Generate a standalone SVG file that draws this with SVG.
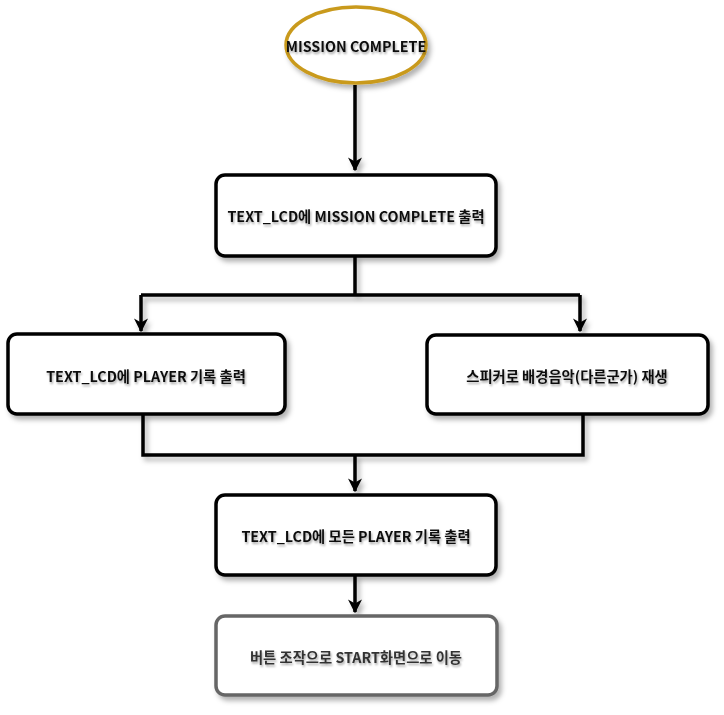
<svg xmlns="http://www.w3.org/2000/svg" width="724" height="715" viewBox="0 0 724 715">
<defs>
<filter id="sh" x="-10%" y="-10%" width="130%" height="140%">
<feDropShadow dx="3" dy="4" stdDeviation="2.5" flood-color="#000" flood-opacity="0.3"/>
</filter>
<filter id="esh" filterUnits="userSpaceOnUse" x="0" y="0" width="724" height="715">
<feDropShadow dx="3" dy="4" stdDeviation="2.5" flood-color="#000" flood-opacity="0.3"/>
</filter>
<filter id="tsh" x="-5%" y="-20%" width="110%" height="160%">
<feDropShadow dx="1" dy="2" stdDeviation="1.2" flood-color="#000" flood-opacity="0.35"/>
</filter>
<marker id="ah" viewBox="0 0 10 10" refX="9" refY="5" markerWidth="4" markerHeight="4" orient="auto">
<path d="M0,0 L10,5 L0,10 L3,5 Z" fill="#000"/>
</marker>
</defs>
<style>
.box{fill:#fff;stroke:#000;stroke-width:3.5;filter:url(#sh)}
.gray{stroke:#666}
.lbl{font-family:"Noto Sans CJK KR","Noto Sans",sans-serif;font-weight:bold;font-size:14.3px;fill:#111;text-anchor:middle;dominant-baseline:central;filter:url(#tsh)}
.glbl{fill:#333}
.edge{fill:none;stroke:#000;stroke-width:3.5;filter:url(#esh)}
</style>
<rect width="724" height="715" fill="#fff"/>
<g id="connectors">
<path class="edge" d="M355,85 L355,170" marker-end="url(#ah)"/>
<path class="edge" d="M355,256 L355,294"/>
<path class="edge" d="M141,295 L580,295"/>
<path class="edge" d="M141,295 L141,331" marker-end="url(#ah)"/>
<path class="edge" d="M580,295 L580,331" marker-end="url(#ah)"/>
<path class="edge" d="M143,414 L143,455 L583,455 L583,414"/>
<path class="edge" d="M355,455 L355,491" marker-end="url(#ah)"/>
<path class="edge" d="M355,575 L355,612" marker-end="url(#ah)"/>
</g>
<g id="start">
<ellipse cx="356" cy="45" rx="70" ry="38" fill="#fff" stroke="#C99A1E" stroke-width="3.5" filter="url(#sh)"/>
<text class="lbl" x="356" y="45">MISSION COMPLETE</text>
</g>
<g id="n1">
<rect class="box" x="216" y="175" width="280" height="81" rx="9"/>
<text class="lbl" x="356" y="215">TEXT_LCD에 MISSION COMPLETE 출력</text>
</g>
<g id="n2">
<rect class="box" x="8" y="334" width="277" height="80" rx="9"/>
<text class="lbl" x="146" y="375">TEXT_LCD에 PLAYER 기록 출력</text>
</g>
<g id="n3">
<rect class="box" x="427" y="335" width="281" height="79" rx="9"/>
<text class="lbl" x="567" y="375">스피커로 배경음악(다른군가) 재생</text>
</g>
<g id="n4">
<rect class="box" x="216" y="495" width="280" height="80" rx="9"/>
<text class="lbl" x="356" y="535">TEXT_LCD에 모든 PLAYER 기록 출력</text>
</g>
<g id="n5">
<rect class="box gray" x="216" y="616" width="281" height="79" rx="9"/>
<text class="lbl glbl" x="356" y="656">버튼 조작으로 START화면으로 이동</text>
</g>
</svg>
